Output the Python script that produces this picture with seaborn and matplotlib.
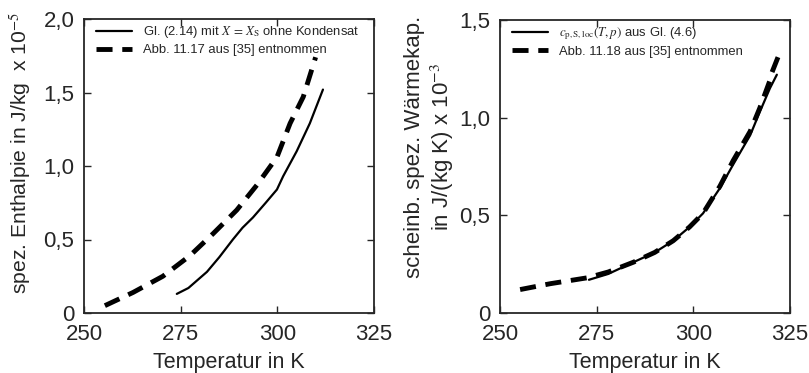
import seaborn as sns
import numpy as np
import matplotlib
matplotlib.use('Agg')
import matplotlib.pyplot as plt

# left: spez. Enthalpie
T_h_calc = [274.0, 277.0, 281.8, 285.0, 288.5, 291.0, 293.7, 297.0, 299.9, 301.5, 305.0, 308.4, 311.8]
h_calc = [0.13, 0.17, 0.28, 0.38, 0.50, 0.58, 0.65, 0.75, 0.84, 0.93, 1.10, 1.29, 1.52]
T_h_lit = [255.4, 262.7, 270.4, 277.4, 283.4, 289.5, 294.7, 299.9, 303.3, 306.7, 309.9]
h_lit = [0.05, 0.14, 0.25, 0.39, 0.54, 0.70, 0.87, 1.06, 1.29, 1.47, 1.74]

# right: scheinb. spez. Waermekap.
T_c_calc = [273.0, 278.0, 284.5, 290.0, 294.8, 299.0, 302.5, 306.9, 310.3, 314.7, 317.2, 319.8, 321.6]
c_calc = [0.17, 0.20, 0.26, 0.31, 0.37, 0.44, 0.51, 0.64, 0.76, 0.91, 1.03, 1.15, 1.22]
T_c_lit = [255.2, 263.0, 272.5, 278.0, 284.5, 290.0, 294.8, 299.0, 302.5, 306.9, 310.3, 314.7, 317.2, 319.8, 320.3, 321.9]
c_lit = [0.12, 0.15, 0.18, 0.21, 0.26, 0.31, 0.37, 0.44, 0.51, 0.65, 0.78, 0.93, 1.05, 1.19, 1.23, 1.31]

x_ticks = [250, 275, 300, 325]
y_ticks_left = [0, 0.5, 1.0, 1.5, 2.0]
y_labels_left = ['0', '0,5', '1,0', '1,5', '2,0']
y_ticks_right = [0, 0.5, 1.0, 1.5]
y_labels_right = ['0', '0,5', '1,0', '1,5']

sns.set_style('ticks')
plt.rcParams['font.family'] = ['Liberation Sans', 'DejaVu Sans']
plt.rcParams['mathtext.fontset'] = 'stix'
plt.rcParams['xtick.direction'] = 'in'
plt.rcParams['ytick.direction'] = 'in'

fig = plt.figure(figsize=(8.09, 3.73), dpi=100)
ax1 = fig.add_axes([84/809, 60/373, 290/809, 294/373])
ax2 = fig.add_axes([500/809, 60/373, 290/809, 293/373])

dash = (0, (3.3, 2.0))

sns.lineplot(x=T_h_calc, y=h_calc, ax=ax1, color='black', lw=1.6, sort=False,
             label=r'Gl. (2.14) mit $X\,=\,X_\mathrm{S}$ ohne Kondensat')
sns.lineplot(x=T_h_lit, y=h_lit, ax=ax1, color='black', lw=3.5, linestyle=dash, sort=False,
             label='Abb. 11.17 aus [35] entnommen')

sns.lineplot(x=T_c_calc, y=c_calc, ax=ax2, color='black', lw=1.6, sort=False,
             label=r'$c_\mathrm{p,S,loc}(T,p)$ aus Gl. (4.6)')
sns.lineplot(x=T_c_lit, y=c_lit, ax=ax2, color='black', lw=3.5, linestyle=dash, sort=False,
             label='Abb. 11.18 aus [35] entnommen')

for ax, yt, yl, ymax in [(ax1, y_ticks_left, y_labels_left, 2.0),
                         (ax2, y_ticks_right, y_labels_right, 1.5)]:
    ax.set_xlim(250, 325)
    ax.set_ylim(0, ymax)
    ax.set_xticks(x_ticks)
    ax.set_xticklabels([str(t) for t in x_ticks], fontsize=16)
    ax.set_yticks(yt)
    ax.set_yticklabels(yl, fontsize=16)
    ax.tick_params(top=True, right=True, length=5, width=1)
    ax.tick_params(axis='x', pad=8)
    ax.tick_params(axis='y', pad=7)
    for s in ax.spines.values():
        s.set_visible(True)
        s.set_linewidth(1.3)
    ax.set_xlabel('Temperatur in K', fontsize=15.5, labelpad=5)
    ax.legend(loc='upper left', bbox_to_anchor=(0.025, 1.0), frameon=False,
              fontsize=9.4, handlelength=2.7, handletextpad=0.85,
              borderaxespad=0.0, labelspacing=0.3)

ax1.set_ylabel(r'spez. Enthalpie in J/kg  x 10$^{-5}$', fontsize=15.2)
ax1.yaxis.set_label_coords(-0.175, 0.545)
ax2.set_ylabel('scheinb. spez. Wärmekap.\nin J/(kg K) x 10$^{-3}$', fontsize=16)
ax2.yaxis.set_label_coords(-0.15, 0.567)

fig.savefig('out.png', dpi=100)
